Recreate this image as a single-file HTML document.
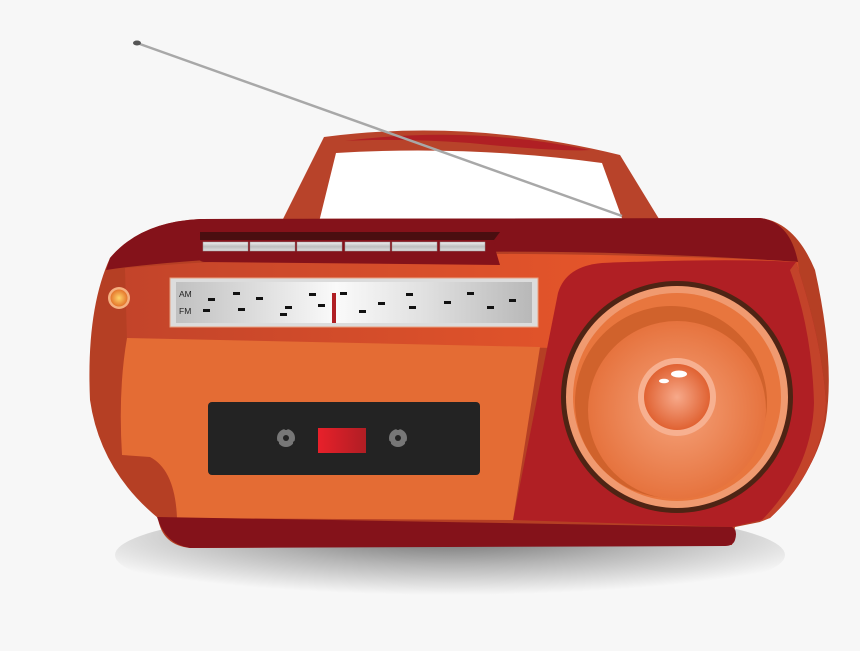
<!DOCTYPE html>
<html><head><meta charset="utf-8"><style>html,body{margin:0;padding:0;background:#f7f7f7;}svg{display:block}</style></head><body>
<svg width="860" height="651" viewBox="0 0 860 651" xmlns="http://www.w3.org/2000/svg">
<defs>
<radialGradient id="sh" cx="0.5" cy="0.3" r="0.6"><stop offset="0" stop-color="#6a6a6a"/><stop offset="0.5" stop-color="#b5b5b5"/><stop offset="1" stop-color="#f7f7f7"/></radialGradient>
<linearGradient id="tun" x1="0" x2="1"><stop offset="0" stop-color="#c0c0c0"/><stop offset="0.45" stop-color="#fafafa"/><stop offset="0.7" stop-color="#e0e0e0"/><stop offset="1" stop-color="#b8b8b8"/></linearGradient>
<linearGradient id="upper" x1="0" x2="1"><stop offset="0" stop-color="#c3442a"/><stop offset="0.7" stop-color="#e4552a"/><stop offset="1" stop-color="#d24a27"/></linearGradient>
<linearGradient id="btn" x1="0" y1="0" x2="0" y2="1"><stop offset="0" stop-color="#f2f2f2"/><stop offset="0.5" stop-color="#bdbdbd"/><stop offset="1" stop-color="#e0e0e0"/></linearGradient>
<radialGradient id="cone" cx="0.5" cy="0.5" r="0.5"><stop offset="0" stop-color="#f5a27a"/><stop offset="1" stop-color="#e6733e"/></radialGradient>
<radialGradient id="dome" cx="0.5" cy="0.5" r="0.5"><stop offset="0" stop-color="#f7a98a"/><stop offset="1" stop-color="#e06232"/></radialGradient>
<radialGradient id="led" cx="0.5" cy="0.5" r="0.5"><stop offset="0" stop-color="#ffd36a"/><stop offset="1" stop-color="#e4762c"/></radialGradient>
<linearGradient id="red" x1="0" x2="1"><stop offset="0" stop-color="#e8202a"/><stop offset="1" stop-color="#b01e24"/></linearGradient>
</defs>
<ellipse cx="450" cy="555" rx="335" ry="50" fill="url(#sh)"/>
<!-- handle inner white -->
<path d="M336,153 Q470,145 602,163 L627,232 L319,222 Z" fill="#ffffff"/>
<!-- handle -->
<path d="M281,223 L324,137 Q470,118 620,155 L667,232 L627,232 L602,163 Q470,145 336,153 L319,222 Z" fill="#b8432a"/>
<path d="M345,141 Q470,125 590,150 Q560,152 470,143 Q400,138 345,141 Z" fill="#b01f24"/>
<!-- antenna -->
<line x1="137" y1="43" x2="622" y2="216" stroke="#a8a8a8" stroke-width="2.5"/>
<ellipse cx="137" cy="43" rx="4" ry="2.5" fill="#555"/>
<!-- body -->
<path d="M110,258 Q140,222 200,219 L760,218 Q795,222 815,270 Q835,360 826,420 Q815,480 760,522 L735,527 L732,545 L190,548 Q162,545 158,518 Q100,470 90,400 Q86,310 110,258 Z" fill="#b53f24"/>
<path d="M110,258 Q140,222 200,219 L760,218 Q790,222 798,262 Q600,248 400,253 Q200,256 106,270 Z" fill="#84121a"/>
<path d="M125,268 Q350,250 600,255 Q750,258 798,262 L800,280 Q700,266 600,268 L556,348 L127,340 Z" fill="url(#upper)"/>
<path d="M602,263 Q730,258 796,262 Q822,340 826,403 Q822,470 770,518 L732,527 L513,520 L558,293 Q566,266 602,263 Z" fill="#b01f24"/>
<path d="M796,262 Q822,340 826,403 Q822,470 770,518 L760,522 Q812,470 814,403 Q812,330 790,270 Z" fill="#c3432a"/>
<path d="M127,338 L540,347 L513,520 L177,518 Q175,470 150,457 L122,455 Q118,390 127,338 Z" fill="#e46c34"/>
<!-- button tray -->
<path d="M197,236 Q198,232 205,232 L500,232 L494,245 L500,265 L205,262 Q197,262 197,252 Z" fill="#84121a"/>
<path d="M200,232 L500,232 L494,240 L200,240 Z" fill="#4a0e10"/>
<g fill="url(#btn)" stroke="#9a9a9a" stroke-width="0.5">
<rect x="203" y="242" width="45" height="9"/><rect x="250" y="242" width="45" height="9"/><rect x="297" y="242" width="45" height="9"/><rect x="345" y="242" width="45" height="9"/><rect x="392" y="242" width="45" height="9"/><rect x="440" y="242" width="45" height="9"/>
</g>
<!-- tuner -->
<rect x="170" y="278" width="368" height="49" fill="#dcdcdc" stroke="#e8a080" stroke-width="1"/>
<rect x="176" y="282" width="356" height="41" fill="url(#tun)"/>
<text x="179" y="297" font-family="Liberation Sans, sans-serif" font-size="8.5" fill="#222">AM</text>
<text x="179" y="314" font-family="Liberation Sans, sans-serif" font-size="8.5" fill="#222">FM</text>
<g fill="#111">
<rect x="208" y="298" width="7" height="3"/><rect x="233" y="292" width="7" height="3"/><rect x="256" y="297" width="7" height="3"/><rect x="203" y="309" width="7" height="3"/><rect x="238" y="308" width="7" height="3"/><rect x="280" y="313" width="7" height="3"/><rect x="285" y="306" width="7" height="3"/><rect x="309" y="293" width="7" height="3"/><rect x="318" y="304" width="7" height="3"/><rect x="340" y="292" width="7" height="3"/><rect x="359" y="310" width="7" height="3"/><rect x="378" y="302" width="7" height="3"/><rect x="406" y="293" width="7" height="3"/><rect x="409" y="306" width="7" height="3"/><rect x="444" y="301" width="7" height="3"/><rect x="467" y="292" width="7" height="3"/><rect x="487" y="306" width="7" height="3"/><rect x="509" y="299" width="7" height="3"/>
</g>
<rect x="332" y="293" width="4" height="30" fill="#b01f24"/>
<circle cx="119" cy="298" r="11" fill="#f5b080"/>
<circle cx="119" cy="298" r="8.5" fill="url(#led)"/>
<!-- cassette -->
<rect x="208" y="402" width="272" height="73" rx="4" fill="#232323"/>
<rect x="318" y="428" width="48" height="25" fill="url(#red)"/>
<g fill="#777"><circle cx="286" cy="438" r="9"/><circle cx="398" cy="438" r="9"/></g>
<g fill="#232323"><circle cx="286" cy="438" r="3"/><circle cx="398" cy="438" r="3"/>
<circle cx="286" cy="428" r="2"/><circle cx="295" cy="443" r="2"/><circle cx="277" cy="443" r="2"/>
<circle cx="398" cy="428" r="2"/><circle cx="407" cy="443" r="2"/><circle cx="389" cy="443" r="2"/></g>
<path d="M157,517 L732,527 Q738,530 735,540 Q733,546 725,546 L190,548 Q165,544 157,517 Z" fill="#84121a"/>
<!-- speaker -->
<circle cx="677" cy="397" r="116" fill="#4e2414"/>
<circle cx="677" cy="397" r="111" fill="#f09a70"/>
<circle cx="677" cy="397" r="104" fill="#e8763e"/>
<circle cx="671" cy="402" r="96" fill="#d0622c"/>
<circle cx="677" cy="410" r="89" fill="url(#cone)"/>
<circle cx="677" cy="397" r="39" fill="#f7b090"/>
<circle cx="677" cy="397" r="33" fill="url(#dome)"/>
<ellipse cx="679" cy="374" rx="8" ry="3.5" fill="#fff"/>
<ellipse cx="664" cy="381" rx="5" ry="2.3" fill="#fff"/>
</svg>
</body></html>
